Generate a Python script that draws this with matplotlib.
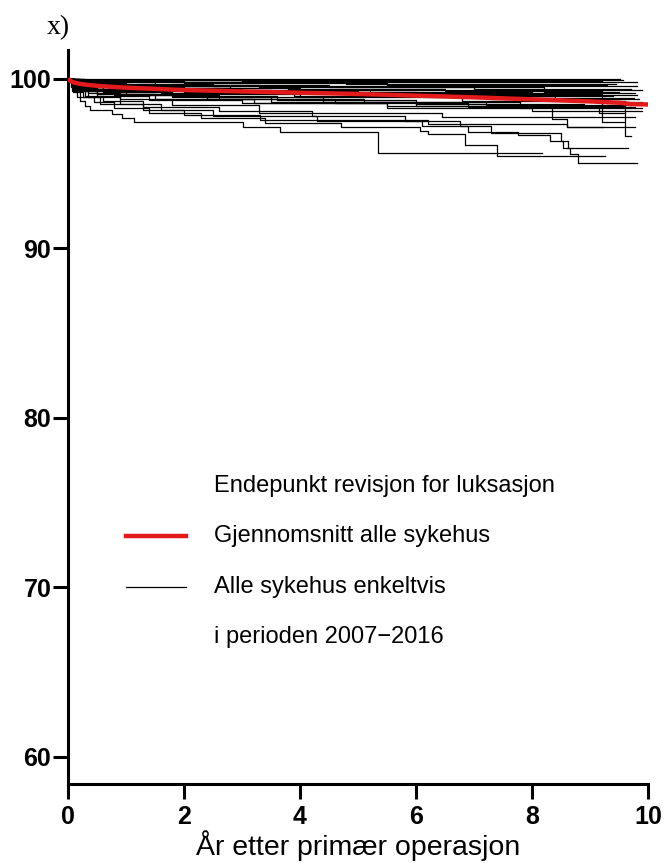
import matplotlib
matplotlib.use("Agg")
import matplotlib.pyplot as plt

# -- data: Kaplan-Meier style curves (years, % without revision) -------------
# one (times, survival) pair per hospital; survival[i] holds from times[i]
hosp_times = [
    [0, 9.52],
    [0, 0.3, 9.57],
    [0, 0.05, 3.0, 9.2],
    [0, 0.1, 1.2, 9.81],
    [0, 0.2, 2.0, 5.5, 9.3],
    [0, 0.05, 0.6, 2.5, 9.81],
    [0, 0.12, 1.5, 4.5, 8.2, 9.5],
    [0, 0.05, 1.0, 3.3, 7.0, 9.7],
    [0, 0.1, 0.4, 1.5, 4.0, 9.9],
    [0, 0.2, 1.1, 3.8, 6.5, 9.2],
    [0, 0.08, 0.5, 2.0, 5.0, 9.78],
    [0, 0.1, 0.7, 3.0, 6.0, 9.81],
    [0, 0.05, 0.5, 2.0, 5.0, 9.2, 9.58],
    [0, 0.1, 0.9, 2.6, 4.9, 7.6, 9.75],
    [0, 0.3, 1.3, 3.5, 5.7, 8.4, 9.3, 9.9],
    [0, 0.15, 0.8, 2.2, 4.0, 6.8, 9.6],
    [0, 0.1, 0.9, 2.3, 4.4, 7.2, 9.7],
    [0, 0.1, 0.6, 1.8, 3.5, 6.0, 9.6, 9.7],
    [0, 0.08, 0.6, 1.8, 3.6, 6.0, 8.9, 9.78],
    [0, 0.1, 0.5, 1.5, 3.2, 5.5, 8.0, 9.9],
    [0, 0.1, 0.5, 1.4, 3.0, 5.5, 8.34, 8.6, 9.22],
    [0, 0.1, 0.35, 0.9, 1.8, 3.3, 6.45, 9.78],
    [0, 0.06, 0.2, 0.55, 1.3, 2.0, 3.31, 6.2, 8.6, 9.78],
    [0, 0.08, 0.3, 0.6, 1.3, 2.6, 4.2, 5.81, 6.76, 6.9, 7.76, 8.31, 8.53,
     8.66, 8.79, 9.81],
    [0, 0.05, 0.12, 0.25, 0.45, 0.8, 1.4, 2.3, 3.4, 4.7, 6.07, 6.21, 6.84,
     7.4, 9.26],
    [0, 0.1, 0.35, 0.9, 1.6, 2.5, 4.3, 6.1, 7.3, 8.5, 8.62, 9.66],
    [0, 0.09, 0.15, 0.21, 0.29, 0.38, 0.75, 0.93, 1.13, 3.02, 3.66, 5.34,
     8.17],
    [0, 0.15, 0.9, 2.8, 5.2, 8.0, 9.4],
    [0, 0.07, 0.45, 1.6, 3.9, 7.3, 9.85],
    [0, 0.2, 1.8, 4.8, 9.45],
    [0, 0.06, 0.3, 1.0, 2.6, 5.1, 7.8, 9.9],
    [0, 0.1, 0.8, 2.4, 4.6, 6.9, 9.15, 9.6],
]
hosp_surv = [
    [100, 100],
    [100, 99.92, 99.92],
    [100, 99.9, 99.85, 99.85],
    [100, 99.9, 99.78, 99.78],
    [100, 99.85, 99.75, 99.65, 99.65],
    [100, 99.85, 99.7, 99.59, 99.59],
    [100, 99.8, 99.65, 99.5, 99.2, 99.2],
    [100, 99.75, 99.6, 99.5, 99.4, 99.4],
    [100, 99.8, 99.6, 99.45, 99.33, 99.33],
    [100, 99.7, 99.55, 99.4, 99.25, 99.25],
    [100, 99.7, 99.5, 99.3, 99.13, 99.13],
    [100, 99.6, 99.4, 99.2, 99.05, 99.05],
    [100, 99.6, 99.35, 99.2, 99.1, 97.42, 97.42],
    [100, 99.65, 99.45, 99.25, 99.0, 98.85, 98.85],
    [100, 99.5, 99.35, 99.15, 98.95, 98.8, 98.6, 98.6],
    [100, 99.55, 99.3, 99.1, 98.9, 98.7, 98.7],
    [100, 99.4, 99.1, 98.9, 98.65, 98.45, 98.45],
    [100, 99.5, 99.2, 98.9, 98.65, 98.4, 96.64, 96.64],
    [100, 99.5, 99.2, 98.95, 98.75, 98.5, 98.35, 98.35],
    [100, 99.45, 99.1, 98.8, 98.55, 98.3, 98.07, 98.07],
    [100, 99.3, 99.0, 98.75, 98.55, 98.4, 97.6, 97.13, 97.13],
    [100, 99.5, 99.15, 98.8, 98.45, 98.0, 97.75, 97.75],
    [100, 99.3, 98.9, 98.5, 98.15, 97.85, 97.56, 97.3, 97.13, 97.13],
    [100, 99.4, 99.0, 98.7, 98.35, 98.1, 97.81, 97.52, 97.22, 96.86, 96.69,
     96.3, 95.91, 95.55, 95.02, 95.02],
    [100, 99.5, 99.2, 98.9, 98.6, 98.3, 98.0, 97.7, 97.4, 97.13, 96.93,
     96.74, 96.1, 95.45, 95.45],
    [100, 99.4, 98.9, 98.5, 98.15, 97.8, 97.5, 97.2, 96.8, 96.3, 95.91,
     95.91],
    [100, 99.2, 98.9, 98.66, 98.4, 98.15, 97.9, 97.68, 97.42, 97.13, 96.83,
     95.62, 95.62],
    [100, 99.75, 99.55, 99.35, 99.2, 99.0, 99.0],
    [100, 99.55, 99.35, 99.15, 98.95, 98.8, 98.8],
    [100, 99.9, 99.8, 99.7, 99.7],
    [100, 99.6, 99.3, 99.05, 98.8, 98.6, 98.25, 98.25],
    [100, 99.35, 99.05, 98.8, 98.55, 98.35, 98.0, 98.0],
]

# pooled curve, all hospitals
mean_t = [0, 0.05, 0.1, 0.2, 0.3, 0.5, 0.75, 1, 1.5, 2, 3, 4, 5, 6, 7, 8,
          8.5, 9, 9.5, 9.7, 10]
mean_s = [100, 99.85, 99.78, 99.7, 99.65, 99.58, 99.52, 99.47, 99.4, 99.33,
          99.25, 99.17, 99.1, 99.0, 98.9, 98.78, 98.72, 98.66, 98.58, 98.5,
          98.48]

x_ticks = [0, 2, 4, 6, 8, 10]
y_ticks = [60, 70, 80, 90, 100]

legend_rows = ["Endepunkt revisjon for luksasjon",
               "Gjennomsnitt alle sykehus",
               "Alle sykehus enkeltvis",
               "i perioden 2007\u22122016"]

RED = "#e31a1c"

# -- style ---------------------------------------------------------------------
plt.rcParams["font.family"] = ["Liberation Sans", "DejaVu Sans"]

fig = plt.figure(figsize=(6.65, 8.63), dpi=100)
ax = fig.add_axes([0.1023, 0.0915, 0.8722, 0.8505])

for t, s in zip(hosp_times, hosp_surv):
    ax.step(t, s, where="post", color="black", linewidth=0.9, zorder=2)

ax.plot(mean_t, mean_s, color=RED, linewidth=3.2, solid_capstyle="butt",
        zorder=3)

ax.set_xlim(0, 10)
ax.set_ylim(58.38, 101.69)
ax.set_xticks(x_ticks)
ax.set_yticks(y_ticks)

for side in ("top", "right"):
    ax.spines[side].set_visible(False)
for side in ("left", "bottom"):
    ax.spines[side].set_linewidth(2.2)

ax.tick_params(axis="both", direction="out", length=11, width=2.2,
               labelsize=18)
ax.tick_params(axis="y", pad=1)
ax.tick_params(axis="x", pad=4)
for lab in ax.get_xticklabels() + ax.get_yticklabels():
    lab.set_fontweight("bold")

ax.set_xlabel("År etter primær operasjon", fontsize=20.5, labelpad=1)

fig.text(47 / 665, 1 - 34 / 863, "x)", family="Liberation Serif",
         fontsize=20, va="baseline")

# -- legend, drawn by hand in axes coordinates ---------------------------------
row_y = [0.406, 0.338, 0.268, 0.200]
for y, txt in zip(row_y, legend_rows):
    ax.text(0.2517, y, txt, transform=ax.transAxes, fontsize=17,
            va="center", ha="left")
ax.plot([0.10, 0.2034], [row_y[1]] * 2, transform=ax.transAxes, color=RED,
        linewidth=3.2)
ax.plot([0.10, 0.2034], [row_y[2]] * 2, transform=ax.transAxes,
        color="black", linewidth=0.9)

fig.savefig("out.png", dpi=100)
